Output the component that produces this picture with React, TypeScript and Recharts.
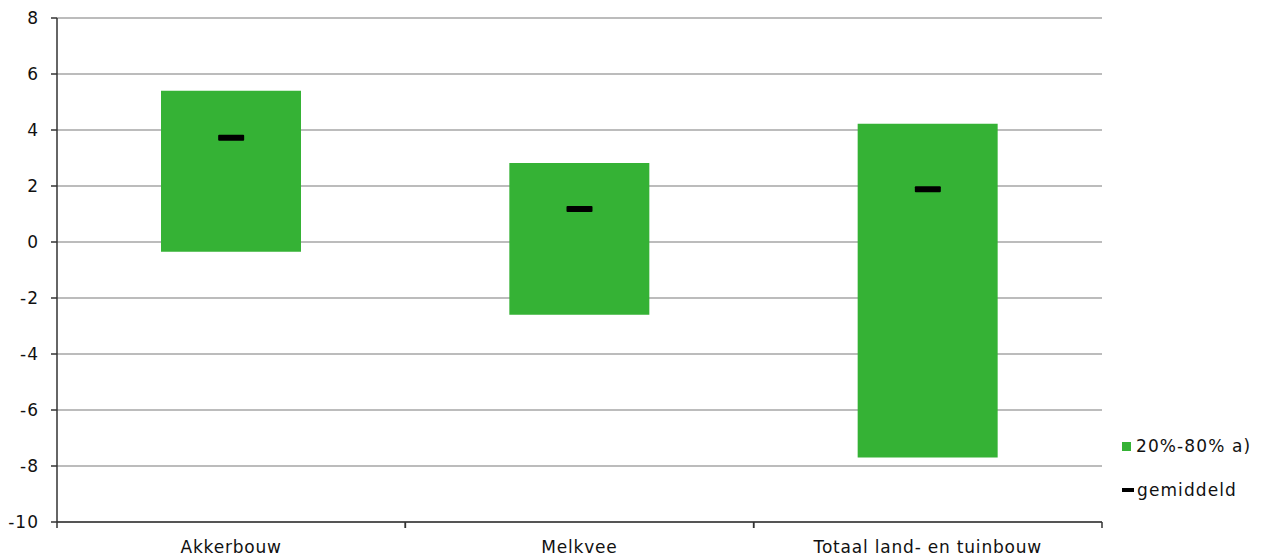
import {
  ComposedChart,
  Bar,
  Scatter,
  XAxis,
  YAxis,
  CartesianGrid,
  Legend,
} from 'recharts';

const categories = ['Akkerbouw', 'Melkvee', 'Totaal land- en tuinbouw'];
const low = [-0.35, -2.6, -7.7];
const high = [5.4, 2.82, 4.22];
const mean = [3.72, 1.18, 1.88];
const yTicks = [-10, -8, -6, -4, -2, 0, 2, 4, 6, 8];

const data = categories.map((name, i) => ({
  name,
  range: [low[i], high[i]],
  mean: mean[i],
}));

const font = 'DejaVu Sans, Verdana, sans-serif';
const green = '#35b235';

const MeanMark = (props: any) => {
  const { cx, cy } = props;
  if (cx == null || cy == null) return null;
  return <rect x={cx - 13} y={cy - 3} width={26} height={6} rx={1} fill="#000" />;
};

// category label plus Excel-style tick marks at the band edges
const CategoryTick = (props: any) => {
  const { x, y, payload } = props;
  const half = payload?.offset ?? 0;
  const axisY = y - 19;
  return (
    <g>
      <line x1={x - half} x2={x - half} y1={axisY} y2={axisY + 6} stroke="#333" strokeWidth={1.5} />
      <line x1={x + half} x2={x + half} y1={axisY} y2={axisY + 6} stroke="#333" strokeWidth={1.5} />
      <text
        x={x}
        y={y}
        dy="0.71em"
        textAnchor="middle"
        fill="#111"
        fontSize={17}
        fontFamily={font}
        letterSpacing={0.8}
      >
        {payload.value}
      </text>
    </g>
  );
};

const LegendBox = () => (
  <div style={{ fontFamily: font, fontSize: 17, color: '#111', letterSpacing: 1.1 }}>
    <div style={{ display: 'flex', alignItems: 'center', height: 22 }}>
      <span style={{ display: 'inline-block', width: 9, height: 9, background: green, marginRight: 5 }} />
      20%-80% a)
    </div>
    <div style={{ display: 'flex', alignItems: 'center', height: 22, marginTop: 22 }}>
      <span style={{ display: 'inline-block', width: 12, height: 4, background: '#000', marginRight: 3 }} />
      gemiddeld
    </div>
  </div>
);

export default function App() {
  return (
    <div style={{ position: 'absolute', left: 0, top: 0, background: '#fff' }}>
      <ComposedChart
        width={1274}
        height={555}
        data={data}
        margin={{ top: 18, right: 172, bottom: 0, left: 0 }}
      >
        <CartesianGrid vertical={false} stroke="#a6a6a6" strokeWidth={1.5} />
        <XAxis
          dataKey="name"
          tickLine={false}
          tickSize={6}
          tickMargin={13}
          height={33}
          stroke="#333"
          strokeWidth={1.5}
          tick={<CategoryTick />}
        />
        <YAxis
          domain={[-10, 8]}
          ticks={yTicks}
          interval={0}
          width={57}
          tickSize={6}
          tickMargin={12}
          stroke="#333"
          strokeWidth={1.5}
          tick={{ fill: '#111', fontSize: 17, fontFamily: font, letterSpacing: 1 }}
        />
        <YAxis
          yAxisId="right"
          orientation="right"
          domain={[-10, 8]}
          width={0}
          tick={false}
          tickLine={false}
          stroke="#a6a6a6"
        />
        <Legend
          layout="vertical"
          align="center"
          verticalAlign="middle"
          content={<LegendBox />}
          wrapperStyle={{ left: 1122, top: 435, width: 152 }}
        />
        <Bar dataKey="range" fill={green} barSize={140} isAnimationActive={false} />
        <Scatter dataKey="mean" shape={<MeanMark />} isAnimationActive={false} />
      </ComposedChart>
    </div>
  );
}
